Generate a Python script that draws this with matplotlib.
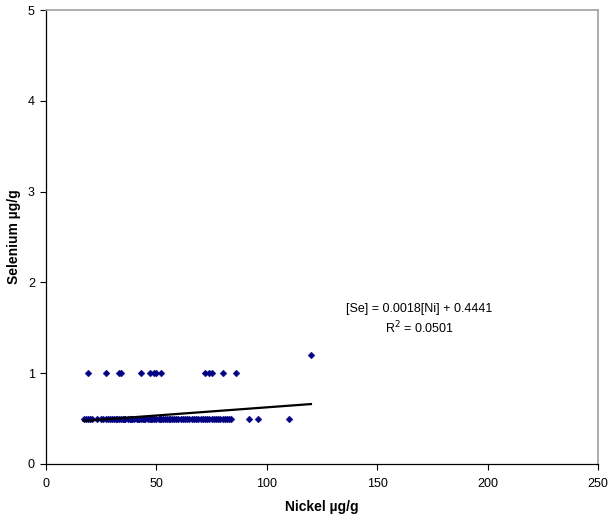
import matplotlib
matplotlib.use("Agg")
import matplotlib.pyplot as plt
import numpy as np

plt.rcParams['font.family'] = ['Liberation Sans', 'DejaVu Sans']

# Data: nickel (x) and selenium (y)
ni_low = [17, 18, 19, 20, 21, 23, 25, 26, 27, 28, 29, 30, 31, 31.5, 32, 33, 34, 35, 35.5,
          36, 37, 38, 38.5, 39, 40, 41, 41.5, 42, 43, 44, 44.5, 45, 46, 47, 47.5, 48, 49, 50,
          51, 51.5, 52, 53, 54, 55, 55.5, 56, 57, 58, 59, 60, 61, 62, 63, 64, 65, 66, 67, 68,
          69, 70, 71, 72, 73, 74, 75, 76, 77, 78, 79, 80, 81, 82, 83, 84, 92, 96, 110]
se_low = [0.5] * len(ni_low)
ni_high = [19, 27, 33, 34, 43, 47, 49, 50, 52, 72, 74, 75, 80, 86, 120]
se_high = [1.0] * 14 + [1.2]

ni = ni_low + ni_high
se = se_low + se_high

slope = 0.0018
intercept = 0.4441
r2 = 0.0501

fig = plt.figure(figsize=(6.09, 5.2), dpi=100)
ax = fig.add_axes([0.0755, 0.1077, 0.9064, 0.873])

ax.scatter(ni, se, marker='D', s=12, color='#000080', edgecolors='#000080', linewidths=0.3, zorder=3)

xfit = np.array([min(ni), max(ni)])
ax.plot(xfit, slope * xfit + intercept, color='black', lw=1.6, zorder=4)

ax.set_xlim(0, 250)
ax.set_ylim(0, 5)
ax.set_xticks([0, 50, 100, 150, 200, 250])
ax.set_yticks([0, 1, 2, 3, 4, 5])
ax.tick_params(direction='out', length=4, width=0.8, labelsize=9, color='black')
ax.tick_params(axis='x', pad=6)
ax.tick_params(axis='y', pad=4)

for s in ['top', 'right']:
    ax.spines[s].set_color('#a0a0a0')
    ax.spines[s].set_linewidth(1.2)
for s in ['left', 'bottom']:
    ax.spines[s].set_color('black')
    ax.spines[s].set_linewidth(0.9)

ax.set_xlabel('Nickel µg/g', fontsize=10, fontweight='bold', labelpad=7)
ax.set_ylabel('Selenium µg/g', fontsize=10, fontweight='bold', labelpad=5)

ax.text(0.677, 0.318, '[Se] = 0.0018[Ni] + 0.4441\nR$^2$ = 0.0501', transform=ax.transAxes,
        ha='center', va='center', fontsize=9, linespacing=1.3, multialignment='center')

fig.savefig('out.png', dpi=100)
